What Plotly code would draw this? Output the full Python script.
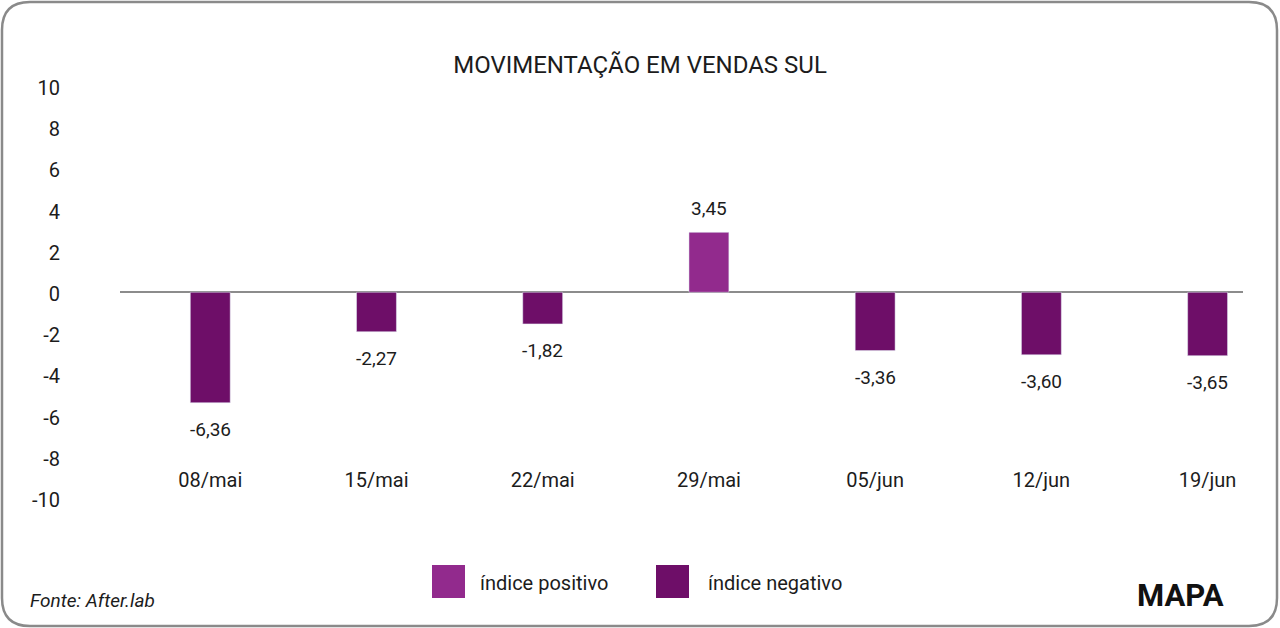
import plotly.graph_objects as go

# ---- data ----
categories = ["08/mai", "15/mai", "22/mai", "29/mai", "05/jun", "12/jun", "19/jun"]
values = [-6.36, -2.27, -1.82, 3.45, -3.36, -3.60, -3.65]
y_ticks = [10, 8, 6, 4, 2, 0, -2, -4, -6, -8, -10]

title_text = "MOVIMENTAÇÃO EM VENDAS SUL"
name_pos = "índice positivo"
name_neg = "índice negativo"
source_text = "Fonte: After.lab"
logo_text = "MAPA"

COL_POS = "#922A8D"
COL_NEG = "#6E0E68"
TXT = "#1c1c1c"
FONT = "Roboto"

W, H = 1280, 628
ML, MR, MT, MB = 60, 37, 88, 128
PLOT_L = 120  # pixel where bar area starts
plot_w = W - ML - MR
plot_h = H - MT - MB


def px_x(px):
    return (px - ML) / plot_w


def px_y(py):
    return (H - MB - py) / plot_h


pos_vals = [v if v > 0 else None for v in values]
neg_vals = [v if v < 0 else None for v in values]

fig = go.Figure()
fig.add_trace(go.Bar(x=categories, y=pos_vals, name=name_pos, marker_color=COL_POS,
                     width=0.24, showlegend=False))
fig.add_trace(go.Bar(x=categories, y=neg_vals, name=name_neg, marker_color=COL_NEG,
                     width=0.24, showlegend=False))
# invisible trace to carry the labelled y axis
fig.add_trace(go.Scatter(x=[categories[0]], y=[0], yaxis="y2", mode="markers",
                         marker=dict(opacity=0), showlegend=False, hoverinfo="skip"))

# data labels
for c, v in zip(categories, values):
    fig.add_annotation(x=c, y=v, xref="x", yref="y", text=f"{v:.2f}".replace(".", ","),
                       showarrow=False, yshift=24 if v > 0 else -27,
                       font=dict(family=FONT, size=19, color=TXT))

shapes = []
# rounded border
x0, y0, x1, y1, r = 2, 2, 1277, 626, 28
pts = [
    ("M", px_x(x0 + r), px_y(y0)),
    ("L", px_x(x1 - r), px_y(y0)),
    ("Q", px_x(x1), px_y(y0), px_x(x1), px_y(y0 + r)),
    ("L", px_x(x1), px_y(y1 - r)),
    ("Q", px_x(x1), px_y(y1), px_x(x1 - r), px_y(y1)),
    ("L", px_x(x0 + r), px_y(y1)),
    ("Q", px_x(x0), px_y(y1), px_x(x0), px_y(y1 - r)),
    ("L", px_x(x0), px_y(y0 + r)),
    ("Q", px_x(x0), px_y(y0), px_x(x0 + r), px_y(y0)),
]
path = " ".join(p[0] + " " + " ".join(f"{c:.5f}" for c in p[1:]) for p in pts) + " Z"
shapes.append(dict(type="path", path=path, xref="paper", yref="paper",
                   line=dict(color="#8a8a8a", width=2.5), layer="below"))

# manual legend
leg = [(432, COL_POS, name_pos, 478), (656, COL_NEG, name_neg, 706)]
for sx, col, name, tx in leg:
    shapes.append(dict(type="rect", xref="paper", yref="paper",
                       x0=px_x(sx), x1=px_x(sx + 33), y0=px_y(598), y1=px_y(565),
                       fillcolor=col, line=dict(width=0)))
    fig.add_annotation(xref="paper", yref="paper", x=px_x(tx), y=px_y(583), text=name,
                       showarrow=False, xanchor="left", yanchor="middle",
                       font=dict(family=FONT, size=20, color=TXT))

fig.add_annotation(xref="paper", yref="paper", x=px_x(28), y=px_y(600), text="<i>" + source_text + "</i>",
                   showarrow=False, xanchor="left", yanchor="middle",
                   font=dict(family=FONT, size=19, color=TXT))
fig.add_annotation(xref="paper", yref="paper", x=px_x(1180), y=px_y(595), text="<b>" + logo_text + "</b>",
                   showarrow=False, xanchor="center", yanchor="middle",
                   font=dict(family=FONT, size=31, color="#111111"))

fig.update_layout(
    width=W, height=H,
    margin=dict(l=ML, r=MR, t=MT, b=MB),
    paper_bgcolor="white", plot_bgcolor="white",
    barmode="overlay",
    title=dict(text=title_text, x=0.5, xref="container", xanchor="center",
               y=1 - 65 / H, yanchor="middle",
               font=dict(family=FONT, size=24, color=TXT)),
    font=dict(family=FONT, color=TXT),
    shapes=shapes,
    xaxis=dict(type="category", domain=[(PLOT_L - ML) / plot_w, 1], range=[-0.543, 6.213],
               anchor="free", position=0.0825, showline=False, showgrid=False,
               ticks="", tickfont=dict(family=FONT, size=20, color=TXT)),
    yaxis=dict(range=[-11.96, 11.76], showticklabels=False, showgrid=False,
               zeroline=True, zerolinecolor="#8c8c8c", zerolinewidth=2, showline=False),
    yaxis2=dict(range=[-10, 10], overlaying="y", side="left", anchor="free", position=0,
                tickvals=y_ticks, ticktext=[str(t) for t in y_ticks], showgrid=False,
                zeroline=False, showline=False, ticks="",
                tickfont=dict(family=FONT, size=20, color=TXT)),
)

fig.write_html("out.html", config={"displayModeBar": False},
               post_script="document.body.style.margin='0';document.body.style.overflow='hidden';")
